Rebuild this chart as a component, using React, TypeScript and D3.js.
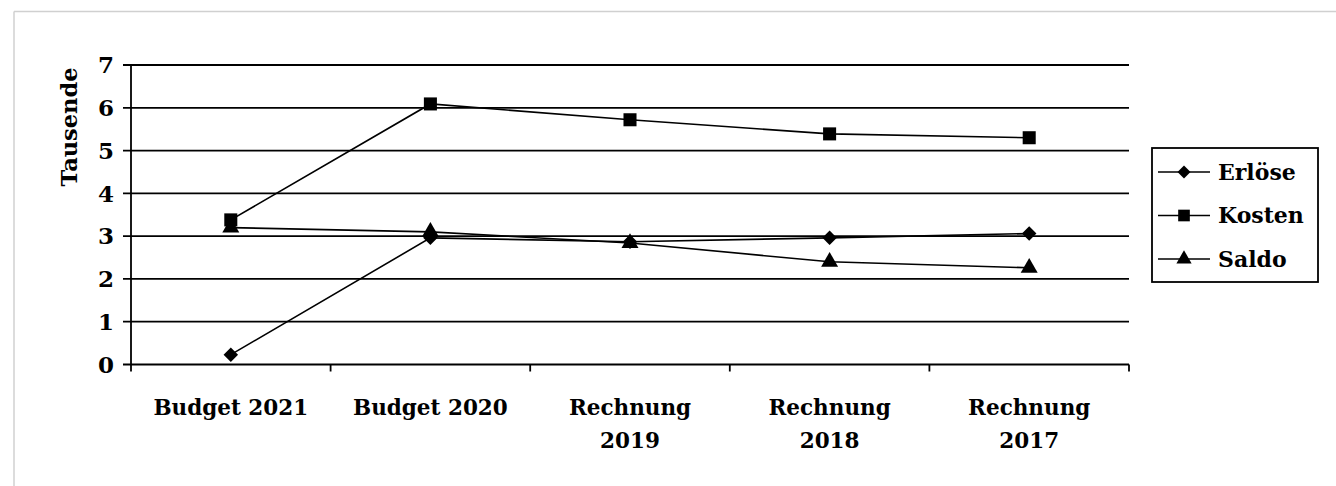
import { useEffect, useRef } from 'react'
import * as d3 from 'd3'

const categories = ['Budget 2021', 'Budget 2020', 'Rechnung 2019', 'Rechnung 2018', 'Rechnung 2017']
const erloese = [0.23, 2.96, 2.87, 2.96, 3.06]
const kosten = [3.38, 6.09, 5.72, 5.39, 5.3]
const saldo = [3.2, 3.1, 2.84, 2.4, 2.26]
const yTicks = [0, 1, 2, 3, 4, 5, 6, 7]

// rotated square, like the spreadsheet diamond marker
const squareDiamond: d3.SymbolType = {
  draw(context, size) {
    const r = Math.sqrt(size / 2)
    context.moveTo(0, -r)
    context.lineTo(r, 0)
    context.lineTo(0, r)
    context.lineTo(-r, 0)
    context.closePath()
  },
}

const seriesList = [
  { name: 'Erlöse', values: erloese, symbol: squareDiamond, size: 105 },
  { name: 'Kosten', values: kosten, symbol: d3.symbolSquare, size: 170 },
  { name: 'Saldo', values: saldo, symbol: d3.symbolTriangle, size: 125 },
]

const FONT = '"DejaVu Serif", serif'

export default function App() {
  const svgRef = useRef<SVGSVGElement>(null)

  useEffect(() => {
    if (!svgRef.current) return
    const svg = d3.select(svgRef.current)
    svg.selectAll('*').remove()

    const left = 131, right = 1129, top = 65, bottom = 364.5

    // outer frame (only top and left visible)
    svg.append('line').attr('x1', 14).attr('x2', 1336).attr('y1', 11.5).attr('y2', 11.5)
      .attr('stroke', '#d0d0d0').attr('stroke-width', 1.5)
    svg.append('line').attr('x1', 14).attr('x2', 14).attr('y1', 11.5).attr('y2', 486)
      .attr('stroke', '#d0d0d0').attr('stroke-width', 1.5)

    const x = d3.scaleBand().domain(categories).range([left, right])
    const y = d3.scaleLinear().domain([0, 7]).range([bottom, top])

    // gridlines
    svg.append('g')
      .selectAll('line')
      .data(yTicks)
      .join('line')
      .attr('x1', left - 8)
      .attr('x2', right)
      .attr('y1', d => y(d))
      .attr('y2', d => y(d))
      .attr('stroke', '#000')
      .attr('stroke-width', 1.8)

    // y axis line
    svg.append('line').attr('x1', left).attr('x2', left).attr('y1', top).attr('y2', bottom + 7)
      .attr('stroke', '#000').attr('stroke-width', 1.8)

    // x ticks
    const xTickPos = categories.map(c => (x(c) as number) + x.bandwidth())
    svg.append('g')
      .selectAll('line')
      .data(xTickPos)
      .join('line')
      .attr('x1', d => d).attr('x2', d => d)
      .attr('y1', bottom).attr('y2', bottom + 7)
      .attr('stroke', '#000').attr('stroke-width', 1.8)

    // y tick labels
    svg.append('g')
      .selectAll('text')
      .data(yTicks)
      .join('text')
      .attr('x', 114)
      .attr('y', d => y(d))
      .attr('dy', '0.36em')
      .attr('text-anchor', 'end')
      .attr('font-family', FONT)
      .attr('font-weight', 'bold')
      .attr('font-size', 23)
      .text(d => d)

    // y title
    svg.append('text')
      .attr('transform', `translate(77,127) rotate(-90)`)
      .attr('text-anchor', 'middle')
      .attr('font-family', FONT)
      .attr('font-weight', 'bold')
      .attr('font-size', 22.5)
      .text('Tausende')

    // x labels
    const labels = svg.append('g')
    categories.forEach(c => {
      const cx = (x(c) as number) + x.bandwidth() / 2
      const parts = c.startsWith('Rechnung') ? c.split(' ') : [c]
      const t = labels.append('text')
        .attr('text-anchor', 'middle')
        .attr('font-family', FONT)
        .attr('font-weight', 'bold')
        .attr('font-size', 21.5)
      parts.forEach((p, i) => {
        t.append('tspan').attr('x', cx).attr('y', 415 + i * 33).text(p)
      })
    })

    // series
    const line = d3.line<number>()
      .x((_, i) => (x(categories[i]) as number) + x.bandwidth() / 2)
      .y(d => y(d))

    seriesList.forEach(s => {
      svg.append('path')
        .attr('d', line(s.values))
        .attr('fill', 'none')
        .attr('stroke', '#000')
        .attr('stroke-width', 1.6)
      svg.append('g')
        .selectAll('path')
        .data(s.values)
        .join('path')
        .attr('transform', (d, i) => `translate(${(x(categories[i]) as number) + x.bandwidth() / 2},${y(d)})`)
        .attr('d', d3.symbol(s.symbol, s.size)())
        .attr('fill', '#000')
    })

    // legend
    const lg = svg.append('g')
    lg.append('rect')
      .attr('x', 1152).attr('y', 148).attr('width', 166).attr('height', 134)
      .attr('fill', '#fff').attr('stroke', '#000').attr('stroke-width', 1.8)
    seriesList.forEach((s, i) => {
      const ly = 172 + i * 43.5
      lg.append('line').attr('x1', 1158).attr('x2', 1210).attr('y1', ly).attr('y2', ly)
        .attr('stroke', '#000').attr('stroke-width', 1.6)
      lg.append('path')
        .attr('transform', `translate(1184,${ly})`)
        .attr('d', d3.symbol(s.symbol, s.size * 0.8)())
        .attr('fill', '#000')
      lg.append('text')
        .attr('x', 1218).attr('y', ly).attr('dy', '0.36em')
        .attr('font-family', FONT)
        .attr('font-weight', 'bold')
        .attr('font-size', 22)
        .text(s.name)
    })
  }, [])

  return (
    <div style={{ position: 'absolute', left: 0, top: 0 }}>
      <svg ref={svgRef} width={1336} height={486} style={{ display: 'block', background: '#fff' }}></svg>
    </div>
  )
}
